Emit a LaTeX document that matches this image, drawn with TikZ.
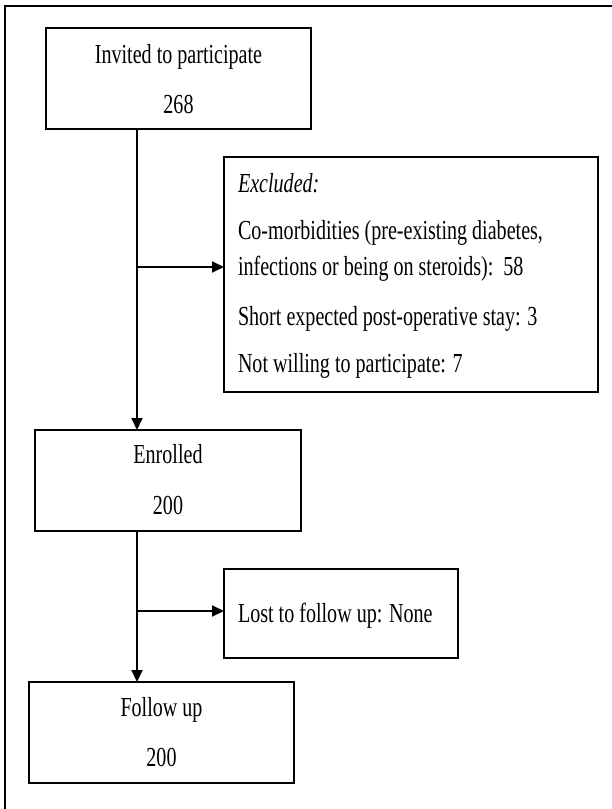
\documentclass[tikz,border=0pt]{standalone}
\usepackage{fontspec}
\setmainfont{Liberation Serif}[FakeStretch=0.73]
\usetikzlibrary{arrows.meta}
\tikzset{
  box/.style={draw=black, line width=2.6pt, fill=white, inner sep=0pt, outer sep=0pt},
  txt/.style={inner sep=0pt, outer sep=0pt, font=\fontsize{27.5}{30}\selectfont},
  arr/.style={line width=1.8pt, -{Triangle[length=12pt,width=11pt]}},
  frame/.style={line width=2.4pt}
}
\begin{document}
\begin{tikzpicture}[x=1pt,y=-1pt]
\useasboundingbox (0,0) rectangle (612,809);
% outer frame (top and left edges visible)
\coordinate (ftl) at (5,6);
\coordinate (ftr) at (612,6);
\coordinate (fbl) at (5,809);
\draw[frame] (ftr) -- (ftl) -- (fbl);

% boxes
\node[box, minimum width=265pt, minimum height=101pt] (inv) at (178.5,78.5) {};
\node[box, minimum width=374pt, minimum height=235pt] (exc) at (411,274.5) {};
\node[box, minimum width=266pt, minimum height=101pt] (enr) at (168,480.5) {};
\node[box, minimum width=234pt, minimum height=89pt] (lost) at (341,613.5) {};
\node[box, minimum width=265pt, minimum height=101pt] (fol) at (161.5,732.5) {};

% texts
\node[txt, anchor=base] (t1) at (178.5,63) {Invited to participate};
\node[txt, anchor=base] (t2) at (178.5,113) {268};
\node[txt, anchor=base west] (e1) at (238,192) {\itshape Excluded:};
\node[txt, anchor=base west] (e2) at (238,239) {Co-morbidities (pre-existing diabetes,};
\node[txt, anchor=base west] (e3) at (238,275) {infections or being on steroids):\ \ 58};
\node[txt, anchor=base west] (e4) at (238,325) {Short expected post-operative stay: 3};
\node[txt, anchor=base west] (e5) at (238,372) {Not willing to participate: 7};
\node[txt, anchor=base] (n1) at (168,463) {Enrolled};
\node[txt, anchor=base] (n2) at (168,514) {200};
\node[txt, anchor=base west] (l1) at (238,622) {Lost to follow up: None};
\node[txt, anchor=base] (f1) at (161.5,716) {Follow up};
\node[txt, anchor=base] (f2) at (161.5,766) {200};

% connectors
\coordinate (j1) at (137,267);
\coordinate (j2) at (137,611);
\draw[arr] (inv.south -| j1) -- (enr.north -| j1);
\draw[arr] (j1) -- (j1 -| exc.west);
\draw[arr] (enr.south -| j2) -- (fol.north -| j2);
\draw[arr] (j2) -- (j2 -| lost.west);
\end{tikzpicture}
\end{document}
